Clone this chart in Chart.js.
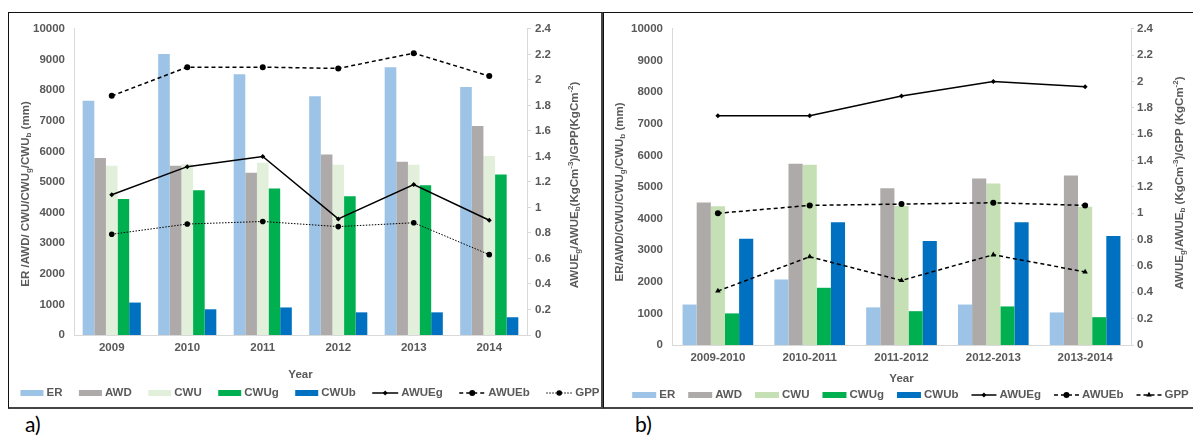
<!DOCTYPE html>
<html>
<head>
<meta charset="utf-8">
<script src="https://cdn.jsdelivr.net/npm/chart.js@4.4.1/dist/chart.umd.min.js"></script>
<style>
  body { margin: 0; background: #fff; width: 1193px; height: 438px; overflow: hidden; position: relative; }
  .box { position: absolute; top: 12px; height: 397px; box-sizing: border-box; pointer-events: none; z-index: 2;
         border-top: 1.5px solid #111; border-left: 1.5px solid #111; border-right: 2.5px solid #444; border-bottom: 2.5px solid #444; }
  canvas { position: absolute; top: 13px; }
  .tag { position: absolute; top: 414px; line-height: 20px; font-size: 21px; font-family: Lato, "Open Sans", sans-serif; color: #000; }
</style>
</head>
<body>
<div class="box" style="left:8px;width:595px"></div>
<div class="box" style="left:603px;width:592px"></div>
<canvas id="chartA" width="591" height="394" style="left:9px"></canvas>
<canvas id="chartB" width="589" height="394" style="left:604px"></canvas>
<div class="tag" style="left:25px">a)</div>
<div class="tag" style="left:635px">b)</div>
<script>
// panel a - calendar years
const yearsA = ['2009', '2010', '2011', '2012', '2013', '2014']
const erA = [7650, 9180, 8520, 7800, 8750, 8100]
const awdA = [5780, 5530, 5300, 5900, 5660, 6830]
const cwuA = [5530, 5580, 5630, 5560, 5560, 5850]
const cwugA = [4440, 4730, 4790, 4530, 4890, 5240]
const cwubA = [1060, 840, 900, 740, 740, 580]
const awuegA = [1.10, 1.32, 1.40, 0.91, 1.18, 0.90]
const awuebA = [1.875, 2.10, 2.10, 2.09, 2.21, 2.03]
const gppA = [0.79, 0.87, 0.89, 0.85, 0.88, 0.63]

// panel b - hydrological years
const yearsB = ['2009-2010', '2010-2011', '2011-2012', '2012-2013', '2013-2014']
const erB = [1280, 2070, 1190, 1280, 1030]
const awdB = [4510, 5730, 4960, 5270, 5360]
const cwuB = [4390, 5700, 4400, 5110, 4370]
const cwugB = [1000, 1810, 1070, 1220, 880]
const cwubB = [3360, 3880, 3290, 3880, 3450]
const awuegB = [1.74, 1.74, 1.89, 2.00, 1.96]
const awuebB = [1.00, 1.06, 1.07, 1.08, 1.06]
const gppB = [0.41, 0.67, 0.49, 0.685, 0.555]

// axis titles, [text, 0 normal / 1 subscript / 2 superscript]
const titleLeftA = [['ER /AWD/ CWU/CWU', 0], ['g', 1], ['/CWU', 0], ['b', 1], [' (mm)', 0]]
const titleRightA = [['AWUE', 0], ['g', 1], ['/AWUE', 0], ['b', 1], ['(KgCm', 0], ['-3', 2], [')/GPP(KgCm', 0], ['-2', 2], [')', 0]]
const titleLeftB = [['ER/AWD/CWU/CWU', 0], ['g', 1], ['/CWU', 0], ['b', 1], [' (mm)', 0]]
const titleRightB = [['AWUE', 0], ['g', 1], ['/AWUE', 0], ['b', 1], [' (KgCm', 0], ['-3', 2], [')/GPP (KgCm', 0], ['-2', 2], [')', 0]]

const FAM = '"Liberation Sans", Arial, sans-serif'
const mainFont = 'bold 11.5px ' + FAM
const smallFont = 'bold 8px ' + FAM
const GRAY = '#595959'

Chart.defaults.font.family = FAM
Chart.defaults.font.size = 11.5
Chart.defaults.font.weight = 'bold'
Chart.defaults.color = GRAY

function richTitle(ctx, parts, cx, cy) {
    ctx.save()
    ctx.translate(cx, cy)
    ctx.rotate(-Math.PI / 2)
    ctx.fillStyle = GRAY
    ctx.textBaseline = 'middle'
    ctx.textAlign = 'left'
    let total = 0
    parts.forEach(p => { ctx.font = p[1] ? smallFont : mainFont; total += ctx.measureText(p[0]).width })
    let x = -total / 2
    parts.forEach(p => {
        ctx.font = p[1] ? smallFont : mainFont
        let dy = p[1] == 1 ? 3 : (p[1] == 2 ? -4 : 0)
        ctx.fillText(p[0], x, dy)
        x += ctx.measureText(p[0]).width
    })
    ctx.restore()
}

function drawLegend(chart, o) {
    const ctx = chart.ctx
    ctx.save()
    ctx.font = mainFont
    const items = chart.data.datasets.map(ds => ({
        ds: ds,
        sw: ds.type == 'line' ? o.lineSwatch : o.barSwatch,
        tw: ctx.measureText(ds.label).width
    }))
    let total = 0
    items.forEach((it, i) => total += it.sw + 3 + it.tw + (i ? o.gap : 0))
    let x = o.legendX - total / 2
    const y = o.legendY
    items.forEach(it => {
        const ds = it.ds
        if (ds.type == 'line') {
            ctx.strokeStyle = ds.borderColor
            ctx.lineWidth = ds.borderWidth
            ctx.setLineDash(ds.borderDash || [])
            ctx.beginPath()
            ctx.moveTo(x, y)
            ctx.lineTo(x + it.sw, y)
            ctx.stroke()
            ctx.setLineDash([])
            ctx.fillStyle = ds.borderColor
            Chart.helpers.drawPoint(ctx, { pointStyle: ds.pointStyle, radius: ds.pointRadius, rotation: 0, borderWidth: 0 }, x + it.sw / 2, y)
        } else {
            ctx.fillStyle = ds.backgroundColor
            ctx.fillRect(x, y - 3, it.sw, 6)
        }
        x += it.sw + 3
        ctx.fillStyle = GRAY
        ctx.textBaseline = 'middle'
        ctx.textAlign = 'left'
        ctx.fillText(ds.label, x, y)
        x += it.tw + o.gap
    })
    ctx.restore()
}

function makePanelText(o) {
    return {
        id: 'panelText',
        afterDraw(chart) {
            richTitle(chart.ctx, o.leftTitle, o.leftX, o.leftY)
            richTitle(chart.ctx, o.rightTitle, o.rightX, o.rightY)
            drawLegend(chart, o)
        }
    }
}

function bar(label, data, color) {
    return { label: label, data: data, backgroundColor: color, borderWidth: 0, yAxisID: 'y', order: 1,
             barPercentage: 1, categoryPercentage: 0.77 }
}

function line(label, data, dash, width, style, radius) {
    return { type: 'line', label: label, data: data, yAxisID: 'y1', order: 0, fill: false, tension: 0,
             borderColor: '#000', backgroundColor: '#000', borderWidth: width, borderDash: dash,
             pointStyle: style, pointRadius: radius, pointBackgroundColor: '#000', pointBorderColor: '#000',
             pointBorderWidth: 0, pointHoverRadius: radius }
}

function makeChart(id, labels, datasets, look) {
    return new Chart(document.getElementById(id).getContext('2d'), {
        type: 'bar',
        data: { labels: labels, datasets: datasets },
        options: {
            responsive: false,
            animation: false,
            events: [],
            layout: { padding: { top: look.top, left: 0, right: 0, bottom: 0 } },
            plugins: { legend: { display: false }, tooltip: { enabled: false } },
            scales: {
                x: {
                    offset: true,
                    grid: { display: false, drawTicks: false },
                    border: { display: true, color: '#D9D9D9', width: 1 },
                    ticks: { padding: 6, maxRotation: 0, autoSkip: false },
                    title: { display: true, text: 'Year', padding: { top: 0, bottom: look.yearPad } },
                    afterFit: s => { s.height = look.xH }
                },
                y: {
                    position: 'left', min: 0, max: 10000,
                    grid: { display: false, drawTicks: false },
                    border: { display: true, color: '#D9D9D9', width: 1 },
                    ticks: { stepSize: 1000, padding: 9, callback: v => String(v) },
                    afterFit: s => { s.width = look.yW }
                },
                y1: {
                    position: 'right', min: 0, max: 2.4,
                    grid: { display: true, drawOnChartArea: false, drawTicks: true, tickLength: look.tickLen, color: '#D9D9D9' },
                    border: { display: true, color: '#D9D9D9', width: 1 },
                    ticks: { stepSize: 0.2, padding: look.tickPad, callback: v => String(+v.toFixed(1)) },
                    afterFit: s => { s.width = look.y1W }
                }
            }
        },
        plugins: [makePanelText(look)]
    })
}

let chartA = makeChart('chartA', yearsA, [
    bar('ER', erA, '#9DC3E6'),
    bar('AWD', awdA, '#AEAAAA'),
    bar('CWU', cwuA, '#E2EFDA'),
    bar('CWUg', cwugA, '#00B050'),
    bar('CWUb', cwubA, '#0070C0'),
    line('AWUEg', awuegA, [], 1.5, 'rectRot', 2.5),
    line('AWUEb', awuebA, [4, 3], 1.5, 'circle', 3),
    line('GPP', gppA, [1.5, 1.5], 1, 'circle', 2.8)
], {
    top: 11, yW: 65, y1W: 73, xH: 72, yearPad: 25, tickLen: 4, tickPad: 4,
    leftTitle: titleLeftA, leftX: 17, leftY: 181,
    rightTitle: titleRightA, rightX: 566, rightY: 172,
    legendX: 301, legendY: 380, barSwatch: 23, lineSwatch: 26, gap: 16.5
})

let chartB = makeChart('chartB', yearsB, [
    bar('ER', erB, '#9DC3E6'),
    bar('AWD', awdB, '#AEAAAA'),
    bar('CWU', cwuB, '#C5E0B4'),
    bar('CWUg', cwugB, '#00B050'),
    bar('CWUb', cwubB, '#0070C0'),
    line('AWUEg', awuegB, [], 1.5, 'rectRot', 2.5),
    line('AWUEb', awuebB, [4, 3], 1.5, 'circle', 3),
    line('GPP', gppB, [4, 3], 1.5, 'triangle', 3.2)
], {
    top: 13, yW: 68, y1W: 62, xH: 62, yearPad: 21, tickLen: 3, tickPad: 3,
    leftTitle: titleLeftB, leftX: 16, leftY: 179,
    rightTitle: titleRightB, rightX: 576, rightY: 170,
    legendX: 306.5, legendY: 382, barSwatch: 24, lineSwatch: 25, gap: 13
})
</script>
</body>
</html>
